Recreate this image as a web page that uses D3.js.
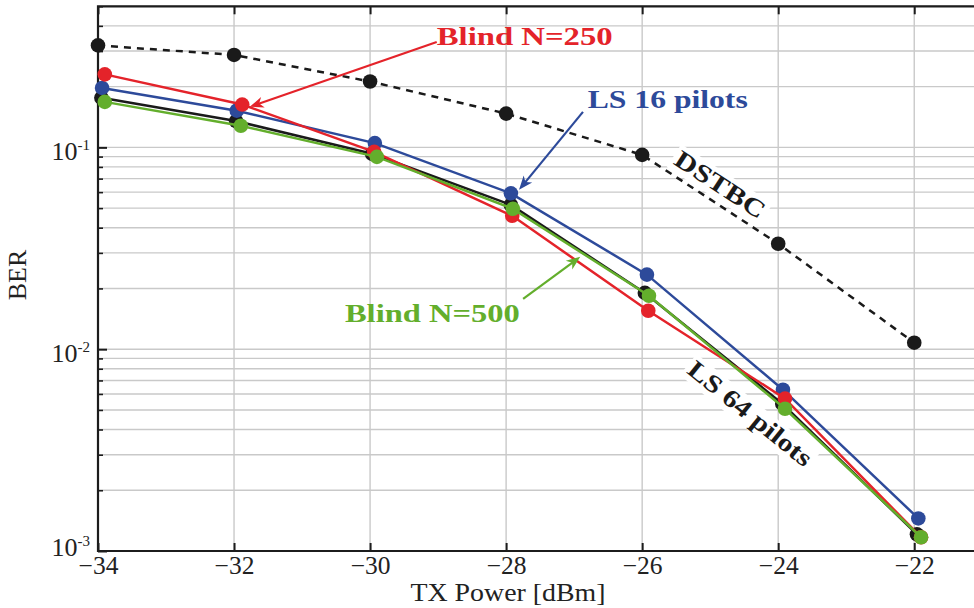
<!DOCTYPE html>
<html>
<head>
<meta charset="utf-8">
<script src="https://cdn.jsdelivr.net/npm/d3@7"></script>
<style>
  html, body { margin: 0; padding: 0; background: #fff; }
  svg { display: block; }
  text { font-family: "Liberation Serif", "Times New Roman", serif; }
</style>
</head>
<body>
<div id="chart"></div>
<script>
// BER versus transmit power for several channel-estimation schemes.
const xTicks = [-34, -32, -30, -28, -26, -24, -22];
const yMajor = [1e-3, 1e-2, 1e-1];
const yMajorLabels = ["-3", "-2", "-1"];

const dstbcX = [-34, -32, -30, -28, -26, -24, -22];
const dstbcBER = [0.320, 0.287, 0.212, 0.147, 0.0918, 0.0333, 0.01077];

const ls64X = [-33.95, -31.97, -29.97, -27.93, -25.96, -23.94, -21.96];
const ls64BER = [0.176, 0.135, 0.0929, 0.0519, 0.0190, 0.00537, 0.00121];

const ls16X = [-33.94, -31.96, -29.93, -27.93, -25.93, -23.93, -21.94];
const ls16BER = [0.197, 0.152, 0.105, 0.0592, 0.0234, 0.0063, 0.00145];

const blind250X = [-33.9, -31.88, -29.94, -27.91, -25.91, -23.90, -21.9];
const blind250BER = [0.230, 0.163, 0.095, 0.0458, 0.0155, 0.00569, 0.00117];

const blind500X = [-33.9, -31.9, -29.9, -27.9, -25.9, -23.9, -21.9];
const blind500BER = [0.168, 0.128, 0.0897, 0.0496, 0.0184, 0.00507, 0.00117];

const W = 974, H = 608;
const svg = d3.select("#chart").append("svg").attr("width", W).attr("height", H);

const x = d3.scaleLinear().domain([-34, -21]).range([98, 98 + 13 * 68.02]);
const y = d3.scaleLog().domain([1e-3, 0.5]).range([551, 6.3]);

const plotLeft = x(-34), plotRight = W + 20, plotTop = y(0.5), plotBottom = y(1e-3);

// grid
const minorVals = [];
for (let e = -3; e <= -1; e++) {
  for (let m = 1; m <= 9; m++) {
    const v = m * Math.pow(10, e);
    if (v <= 0.5 + 1e-12) minorVals.push(v);
  }
}
const grid = svg.append("g").attr("stroke", "#c9c9c9").attr("stroke-width", 1.4);
grid.selectAll("line.h").data(minorVals.filter(v => v > 1e-3)).join("line")
  .attr("class", "h")
  .attr("x1", plotLeft).attr("x2", plotRight)
  .attr("y1", d => y(d)).attr("y2", d => y(d));
grid.selectAll("line.v").data(xTicks.slice(1)).join("line")
  .attr("class", "v")
  .attr("x1", d => x(d)).attr("x2", d => x(d))
  .attr("y1", plotTop).attr("y2", plotBottom);

// axes with inward ticks
const axisColor = "#1c1c1c";
const gx = svg.append("g").attr("transform", `translate(0,${plotBottom})`)
  .call(d3.axisBottom(x).tickValues(xTicks).tickSize(-8).tickPadding(5)
    .tickFormat(d => String(d).replace("-", "\u2212")));
gx.select(".domain").remove();
gx.selectAll(".tick line").attr("stroke", axisColor).attr("stroke-width", 2);
gx.selectAll(".tick text").attr("font-size", 25.5).attr("fill", "#222")
  .attr("font-family", "Liberation Serif");

const gxt = svg.append("g").attr("transform", `translate(0,${plotTop})`)
  .call(d3.axisTop(x).tickValues(xTicks).tickSize(-8).tickFormat(""));
gxt.select(".domain").remove();
gxt.selectAll(".tick line").attr("stroke", axisColor).attr("stroke-width", 2);

const gyMinor = svg.append("g").attr("transform", `translate(${plotLeft},0)`)
  .call(d3.axisLeft(y).tickValues(minorVals.filter(v => !yMajor.includes(v))).tickSize(-5).tickFormat(""));
gyMinor.select(".domain").remove();
gyMinor.selectAll(".tick line").attr("stroke", axisColor).attr("stroke-width", 1.6);

const gyMajor = svg.append("g").attr("transform", `translate(${plotLeft},0)`)
  .call(d3.axisLeft(y).tickValues(yMajor).tickSize(-9).tickFormat(""));
gyMajor.select(".domain").remove();
gyMajor.selectAll(".tick line").attr("stroke", axisColor).attr("stroke-width", 2);

// y tick labels as 10^e
yMajor.forEach((v, i) => {
  const base = i === 0 ? y(v) + 5 : y(v) + 13;
  const t = svg.append("text").attr("x", plotLeft - 8).attr("y", base)
    .attr("text-anchor", "end").attr("font-size", 26).attr("fill", "#222");
  t.append("tspan").text("10");
  t.append("tspan").attr("dy", -10).attr("font-size", 15).text(yMajorLabels[i]);
});

// frame
svg.append("path")
  .attr("d", `M${plotRight},${plotTop}H${plotLeft}V${plotBottom}H${plotRight}`)
  .attr("fill", "none").attr("stroke", axisColor).attr("stroke-width", 2.2);

// axis titles
svg.append("text").attr("x", 508).attr("y", 601).attr("text-anchor", "middle")
  .attr("font-size", 25).attr("fill", "#222")
  .attr("textLength", 195).attr("lengthAdjust", "spacingAndGlyphs")
  .text("TX Power [dBm]");
svg.append("text").attr("transform", "translate(26,275) rotate(-90)")
  .attr("text-anchor", "middle").attr("font-size", 26).attr("fill", "#222").text("BER");

// series
const series = [
  { name: "DSTBC", xs: dstbcX, ys: dstbcBER, color: "#1a1a1a", dash: "7,6" },
  { name: "LS 64 pilots", xs: ls64X, ys: ls64BER, color: "#1a1a1a", dash: null },
  { name: "LS 16 pilots", xs: ls16X, ys: ls16BER, color: "#2d4a9a", dash: null },
  { name: "Blind N=250", xs: blind250X, ys: blind250BER, color: "#e4232a", dash: null },
  { name: "Blind N=500", xs: blind500X, ys: blind500BER, color: "#63ae2c", dash: null }
];
const line = d3.line().x(d => x(d[0])).y(d => y(d[1]));
series.forEach(s => {
  const pts = s.xs.map((xv, i) => [xv, s.ys[i]]);
  const g = svg.append("g");
  g.append("path").datum(pts).attr("d", line)
    .attr("fill", "none").attr("stroke", s.color).attr("stroke-width", 2.5)
    .attr("stroke-dasharray", s.dash);
  g.selectAll("circle").data(pts).join("circle")
    .attr("cx", d => x(d[0])).attr("cy", d => y(d[1])).attr("r", 7.3)
    .attr("fill", s.color);
});

// callouts with arrows
const callouts = [
  { text: "Blind N=250", color: "#e4232a", tx: -29.02, ty: 0.322, len: 176,
    from: [-29.02, 0.333], to: [-31.77, 0.1588] },
  { text: "LS 16 pilots", color: "#2d4a9a", tx: -26.80, ty: 0.157, len: 160,
    from: [-26.87, 0.150], to: [-27.81, 0.0616] },
  { text: "Blind N=500", color: "#63ae2c", tx: -30.37, ty: 0.01365, len: 175,
    from: [-27.75, 0.01776], to: [-26.91, 0.0287] }
];
callouts.forEach(c => {
  const x1 = x(c.from[0]), y1 = y(c.from[1]), x2 = x(c.to[0]), y2 = y(c.to[1]);
  const ang = Math.atan2(y2 - y1, x2 - x1) * 180 / Math.PI;
  svg.append("line").attr("x1", x1).attr("y1", y1)
    .attr("x2", x2 - 8 * Math.cos(ang * Math.PI / 180))
    .attr("y2", y2 - 8 * Math.sin(ang * Math.PI / 180))
    .attr("stroke", c.color).attr("stroke-width", 2.2);
  svg.append("path").attr("d", "M0,0L-14,-5.5L-10,0L-14,5.5Z")
    .attr("transform", `translate(${x2},${y2}) rotate(${ang})`)
    .attr("fill", c.color);
  svg.append("text").attr("x", x(c.tx)).attr("y", y(c.ty))
    .attr("font-size", 25).attr("font-weight", "bold").attr("fill", c.color)
    .attr("textLength", c.len).attr("lengthAdjust", "spacingAndGlyphs")
    .text(c.text);
});

// inline labels set along the curves
const inline = [
  { text: "DSTBC", cx: -24.856, cy: 0.0652, angle: 33, len: 103 },
  { text: "LS 64 pilots", cx: -24.415, cy: 0.00478, angle: 39, len: 152 }
];
inline.forEach(l => {
  const g = svg.append("g").attr("transform", `translate(${x(l.cx)},${y(l.cy)}) rotate(${l.angle})`);
  g.append("rect").attr("x", -l.len / 2 - 3).attr("y", -13).attr("width", l.len + 6).attr("height", 27)
    .attr("fill", "#fff");
  g.append("text").attr("text-anchor", "middle").attr("y", 8)
    .attr("font-size", 25).attr("font-weight", "bold").attr("fill", "#1a1a1a")
    .attr("textLength", l.len).attr("lengthAdjust", "spacingAndGlyphs")
    .text(l.text);
});
</script>
</body>
</html>
